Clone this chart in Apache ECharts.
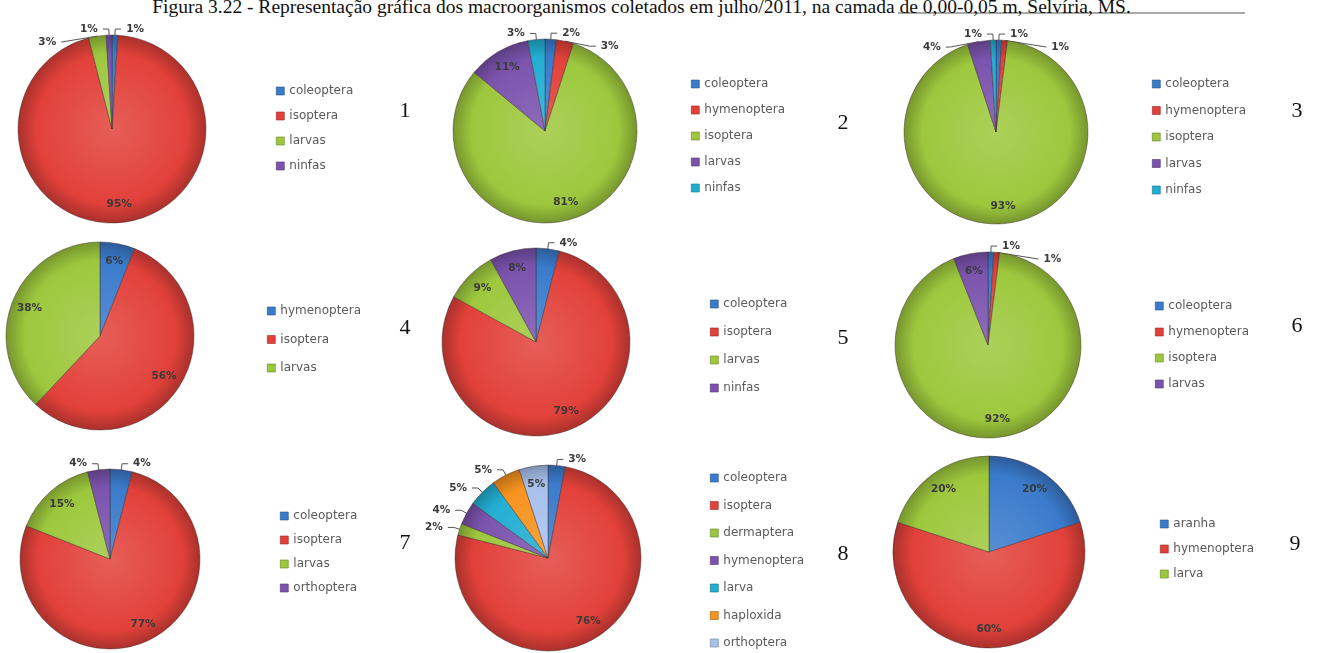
<!DOCTYPE html>
<html><head><meta charset="utf-8">
<script src="https://cdn.jsdelivr.net/npm/echarts@6/dist/echarts.min.js"></script>
<style>
html,body{margin:0;padding:0;background:#fff;width:1317px;height:653px;overflow:hidden;}
#wrap{position:relative;width:1317px;height:653px;overflow:hidden;}
.chart{position:absolute;left:0;top:0;width:1317px;height:800px;}
.num{position:absolute;font-family:"Liberation Serif","Times New Roman",serif;font-size:22px;color:#111;transform:translate(-50%,-50%);line-height:1;}
#title{position:absolute;left:0;top:-4px;width:1283px;text-align:center;font-family:"Liberation Serif","Times New Roman",serif;font-size:19.5px;color:#111;white-space:nowrap;}
#rule{position:absolute;left:898px;top:12px;width:347px;height:2px;background:#a9a9a9;}
</style></head>
<body><div id="wrap">
<div id="rule"></div>
<div id="title"></div>
</div>
<script>
// ---------- DATA ----------
const titleText = 'Figura 3.22 - Representação gráfica dos macroorganismos coletados em julho/2011, na camada de 0,00-0,05 m, Selvíria, MS.';
const panelNumbers = ['1','2','3','4','5','6','7','8','9'];

const chart1Names = ['coleoptera','isoptera','larvas','ninfas'];
const chart1Values = [1, 95, 3, 1];

const chart2Names = ['coleoptera','hymenoptera','isoptera','larvas','ninfas'];
const chart2Values = [2, 3, 81, 11, 3];

const chart3Names = ['coleoptera','hymenoptera','isoptera','larvas','ninfas'];
const chart3Values = [1, 1, 93, 4, 1];

const chart4Names = ['hymenoptera','isoptera','larvas'];
const chart4Values = [6, 56, 38];

const chart5Names = ['coleoptera','isoptera','larvas','ninfas'];
const chart5Values = [4, 79, 9, 8];

const chart6Names = ['coleoptera','hymenoptera','isoptera','larvas'];
const chart6Values = [1, 1, 92, 6];

const chart7Names = ['coleoptera','isoptera','larvas','orthoptera'];
const chart7Values = [4, 77, 15, 4];

const chart8Names = ['coleoptera','isoptera','dermaptera','hymenoptera','larva','haploxida','orthoptera'];
const chart8Values = [3, 76, 2, 4, 5, 5, 5];

const chart9Names = ['aranha','hymenoptera','larva'];
const chart9Values = [20, 60, 20];

// ---------- STYLE / LAYOUT ----------
const palette = ['#3B7BCC','#E2413A','#9DC83D','#7B53AE','#22AED2','#F7931F','#A8C1EC'];
const layout = [
  {cx:112, cy:129, r:94, lx:274, ly:90,  gap:25,   nx:405,  ny:110},
  {cx:545, cy:131, r:92, lx:689, ly:83,  gap:26,   nx:843,  ny:122},
  {cx:996, cy:132, r:92, lx:1150,ly:83,  gap:26.5, nx:1297, ny:110},
  {cx:100, cy:336, r:94, lx:265, ly:310, gap:28.5, nx:405,  ny:327},
  {cx:536, cy:342, r:94, lx:708, ly:303, gap:28,   nx:843,  ny:337},
  {cx:988, cy:345, r:93, lx:1153,ly:305, gap:26,   nx:1297, ny:325},
  {cx:110, cy:559, r:90, lx:278, ly:515, gap:24,   nx:405,  ny:542},
  {cx:548, cy:558, r:93, lx:708, ly:477, gap:27.5, nx:843,  ny:553, outside:['larva','haploxida']},
  {cx:989, cy:552, r:96, lx:1158,ly:523, gap:25,   nx:1295, ny:543}
];
const insideMin = 5;

const charts = [
  [chart1Names, chart1Values], [chart2Names, chart2Values], [chart3Names, chart3Values],
  [chart4Names, chart4Values], [chart5Names, chart5Values], [chart6Names, chart6Values],
  [chart7Names, chart7Values], [chart8Names, chart8Values], [chart9Names, chart9Values]
];

function shade(hex, f){
  const n = parseInt(hex.slice(1),16);
  let r=(n>>16)&255, g=(n>>8)&255, b=n&255;
  const t = f<0?0:255, p=Math.abs(f);
  r=Math.round((t-r)*p+r); g=Math.round((t-g)*p+g); b=Math.round((t-b)*p+b);
  return 'rgb('+r+','+g+','+b+')';
}

const wrap = document.getElementById('wrap');
document.getElementById('title').textContent = titleText;

charts.forEach(([names, values], i) => {
  const L = layout[i];
  const div = document.createElement('div');
  div.className = 'chart';
  wrap.appendChild(div);
  const num = document.createElement('div');
  num.className = 'num';
  num.style.left = L.nx + 'px';
  num.style.top = L.ny + 'px';
  num.textContent = panelNumbers[i];
  wrap.appendChild(num);

  const isInside = k => values[k] >= insideMin && !(L.outside || []).includes(names[k]);

  const chart = echarts.init(div, null, {renderer:'canvas'});
  const labelFont = {fontFamily:'DejaVu Sans', fontSize:10.5, fontWeight:'bold', color:'#3a3a3a'};
  const sliceData = names.map((n, k) => {
    const base = palette[k];
    const inside = isInside(k);
    return {
      name: n, value: values[k],
      itemStyle: {
        color: {type:'radial', x:L.cx, y:L.cy, r:L.r, global:true,
          colorStops:[{offset:0, color:shade(base,0.15)},{offset:0.8, color:base},{offset:1, color:shade(base,-0.25)}]}
      },
      label: {show: !inside},
      labelLine: {show: !inside}
    };
  });
  const labelData = names.map((n, k) => ({
    name: n, value: values[k],
    label: {show: isInside(k)}
  }));
  chart.setOption({
    animation: false,
    legend: {
      orient: 'vertical', left: L.lx - 3, top: L.ly - 11,
      icon: 'rect', itemWidth: 8, itemHeight: 8, itemGap: L.gap - 14,
      selectedMode: false,
      textStyle: {fontFamily:'DejaVu Sans', fontSize:12, color:'#5a5a5a', lineHeight:14},
      data: names.map((n,k) => ({name:n, itemStyle:{color:palette[k], borderColor:shade(palette[k],-0.35), borderWidth:0.6}}))
    },
    series: [
      {
        type: 'pie', center: [L.cx, L.cy], radius: L.r, startAngle: 90, clockwise: true,
        avoidLabelOverlap: true, silent: true,
        itemStyle: {borderColor:'rgba(60,40,40,0.55)', borderWidth:0.8},
        label: Object.assign({position:'outside', formatter: p => p.value + '%'}, labelFont),
        labelLine: {length: 6, length2: 6, lineStyle:{color:'#555', width:1}},
        data: sliceData
      },
      {
        type: 'pie', center: [L.cx, L.cy], radius: L.r * 1.55, startAngle: 90, clockwise: true,
        silent: true, legendHoverLink:false,
        itemStyle: {color:'rgba(0,0,0,0)', borderWidth:0},
        label: Object.assign({position:'inside', formatter: p => p.value + '%'}, labelFont),
        labelLine: {show:false},
        data: labelData
      }
    ]
  });
});
</script>
</body></html>
